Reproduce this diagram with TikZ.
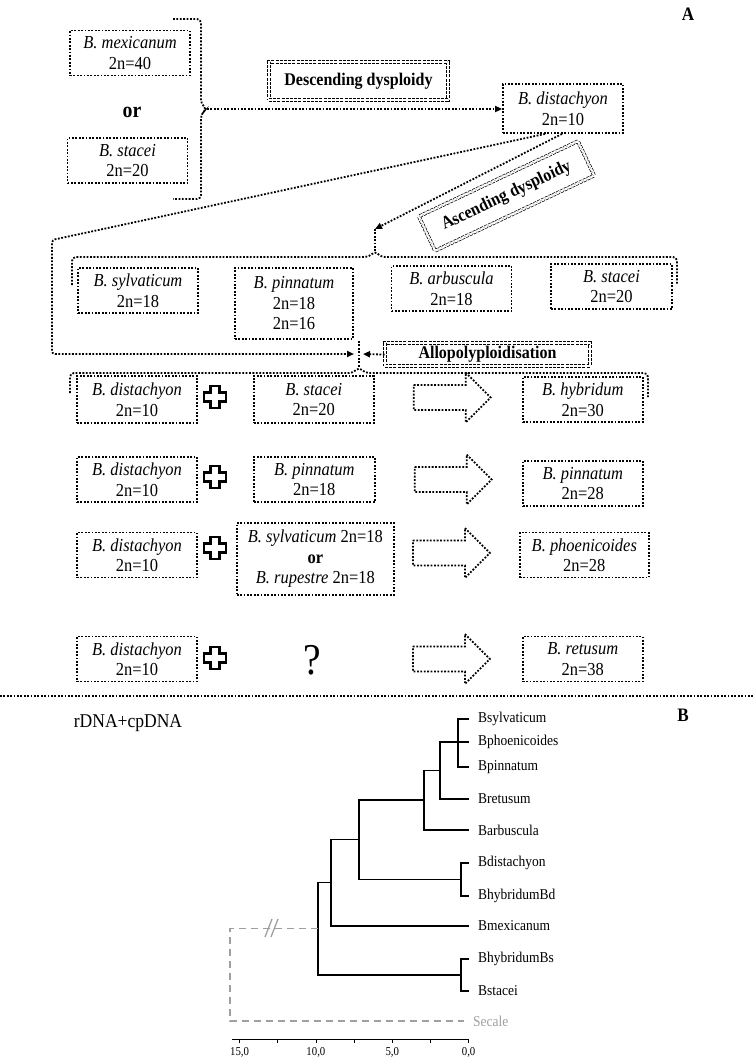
\documentclass[tikz,border=0pt]{standalone}
\usepackage{fontspec}
\setmainfont{Liberation Serif}[FakeStretch=0.9]
\usepackage{tikz}
\usetikzlibrary{positioning,shapes,arrows.meta,calc}
\newcommand{\spn}[2]{\textit{#1}\\#2}
\newcommand{\hplus}[1]{\draw[plusline,shift={#1}] (-4.5,-11) -- ++(9,0) -- ++(0,6.5) -- ++(6.5,0) -- ++(0,9) -- ++(-6.5,0) -- ++(0,6.5) -- ++(-9,0) -- ++(0,-6.5) -- ++(-6.5,0) -- ++(0,-9) -- ++(6.5,0) -- cycle;}
\newcommand{\fatarr}[1]{\draw[dotline,shift={#1}] (0,-12.5) -- (52,-12.5) -- (52,-25) -- (77,0) -- (52,25) -- (52,12.5) -- (0,12.5) -- cycle;}
\tikzset{
  dotline/.style={line width=1.8pt,dash pattern=on 1.8pt off 1.6pt},
  spnode/.style={draw,dotline,align=center,minimum width=120pt,minimum height=45pt,
    inner sep=1pt,font=\fontsize{18.3}{20.5}\selectfont},
  procnode/.style={draw,double,double distance=2.2pt,line width=0.7pt,
    dash pattern=on 3pt off 1.2pt,font=\fontsize{17.8}{19}\selectfont\bfseries,inner sep=2pt},
  brace/.style={draw,dotline,rounded corners=4pt},
  conn/.style={dotline,-{Triangle[length=7pt,width=6pt]}},
  plusline/.style={line width=2.3pt,line join=miter},
  leaf/.style={anchor=west,inner xsep=9pt,inner ysep=1pt,font=\fontsize{15}{16}\selectfont},
  tree/.style={line width=1.4pt},
  outg/.style={gray!75,line width=1.3pt,dash pattern=on 7pt off 5pt},
  tick/.style={font=\fontsize{12}{13}\selectfont}
}
\begin{document}
\begin{tikzpicture}[x=1pt,y=-1pt]
  \useasboundingbox (0,0) rectangle (754,1061);

  \node[font=\fontsize{19}{19}\selectfont\bfseries] (lblA) at (688,14) {A};
  \node[spnode] (mex0) at (130,53) {\spn{B. mexicanum}{2n=40}};
  \node[font=\fontsize{22}{22}\selectfont\bfseries] (or0) at (132,112) {or};
  \node[spnode] (stac0) at (127.5,160.5) {\spn{B. stacei}{2n=20}};
  \node[spnode,minimum height=49pt] (dist0) at (563,108.5) {\spn{B. distachyon}{2n=10}};
  \node[procnode,minimum width=179pt,minimum height=38pt] (desc) at (358.5,81) {Descending dysploidy};
  \node[procnode,minimum width=176pt,minimum height=38pt,rotate=25.3] (asc) at (506.5,196) {Ascending dysploidy};

  \node[spnode] (sylv2) at (138,290.5) {\spn{B. sylvaticum}{2n=18}};
  \node[spnode,minimum width=118pt,minimum height=71pt,anchor=north] (pinn2) at (294,267) {\textit{B. pinnatum}\\2n=18\\2n=16};
  \node[spnode] (arb2) at (451.5,288.5) {\spn{B. arbuscula}{2n=18}};
  \node[spnode,minimum width=121pt] (stac2) at (611.5,286.5) {\spn{B. stacei}{2n=20}};
  \node[procnode,minimum width=205pt,minimum height=23pt,inner sep=1pt] (allo) at (487.5,354.5) {Allopolyploidisation};

  \node[spnode,minimum height=47pt] (dist3) at (137,399.5) {\spn{B. distachyon}{2n=10}};
  \node[spnode,minimum height=47pt,right=55pt of dist3] (stac3) {\spn{B. stacei}{2n=20}};
  \coordinate[right=39pt of stac3,yshift=2pt] (arr3);
  \node[spnode,right=324pt of dist3] (hyb3) {\spn{B. hybridum}{2n=30}};

  \node[spnode] (dist4) at (137,479.5) {\spn{B. distachyon}{2n=10}};
  \node[spnode,minimum width=121pt,right=55pt of dist4] (pinn4) {\spn{B. pinnatum}{2n=18}};
  \coordinate[right=39pt of pinn4] (arr4);
  \node[spnode,right=324pt of dist4,yshift=-4pt] (pinn28) {\spn{B. pinnatum}{2n=28}};

  \node[spnode] (dist5) at (137,555) {\spn{B. distachyon}{2n=10}};
  \node[spnode,minimum width=157pt,minimum height=72pt,right=38pt of dist5,yshift=-4pt] (sylrup)
    {\textit{B. sylvaticum} 2n=18\\\textbf{or}\\\textit{B. rupestre} 2n=18};
  \coordinate[right=215pt of dist5,yshift=2pt] (arr5);
  \node[spnode,minimum width=129pt,right=321pt of dist5] (phoe5) {\spn{B. phoenicoides}{2n=28}};

  \node[spnode] (dist6) at (137,659) {\spn{B. distachyon}{2n=10}};
  \node[font=\fontsize{44}{44}\selectfont] (qm) at (312,660) {?};
  \coordinate[right=215pt of dist6] (arr6);
  \node[spnode,right=324pt of dist6] (ret6) {\spn{B. retusum}{2n=38}};

  \fatarr{(arr3)}
  \fatarr{(arr4)}
  \fatarr{(arr5)}
  \fatarr{(arr6)}
  \hplus{(215,397)}
  \hplus{(215,477)}
  \hplus{(215,548)}
  \hplus{(215,658)}

  \coordinate (tip1) at (207,109);
  \coordinate (tip2) at (375,229);
  \coordinate (hub) at (359,354);
  \draw[brace] (173,19) -- (201,19) -- (201,104) -- (tip1) -- (201,114) -- (201,199) -- (173,199);
  \draw[conn] (tip1) -- (tip1 -| dist0.west);
  \draw[conn] ([xshift=-1pt]dist0.south) -- (tip2);
  \draw[dotline] (tip2) -- (375,251);
  \draw[brace] (72,285) -- (72,257) -- (369,257) -- (375,251) -- (381,257) -- (677,257) -- (677,285);
  \draw[conn,rounded corners=3pt,shorten >=5pt] ([xshift=-18pt]dist0.south) -- (52,240) -- (52,354) -- (hub);
  \draw[conn,shorten >=4pt] (allo.west) -- (hub);
  \draw[dotline] (359,341) -- (359,367);
  \draw[brace] (70,393) -- (70,373) -- (353,373) -- (359,367) -- (365,373) -- (648,373) -- (648,397);

  \draw[dotline] (0,696) -- (754,696);

  % tree
  \node[font=\fontsize{19.5}{20}\selectfont] (dna) at (128,723) {rDNA+cpDNA};
  \node[font=\fontsize{19}{19}\selectfont\bfseries] (lblB) at (683,715) {B};
  \node[leaf] (sylv) at (469,719) {Bsylvaticum};
  \node[leaf] (phoe) at (469,742) {Bphoenicoides};
  \node[leaf] (pinn) at (469,767) {Bpinnatum};
  \node[leaf] (retu) at (469,799) {Bretusum};
  \node[leaf] (arbu) at (469,830) {Barbuscula};
  \node[leaf] (dist) at (469,863) {Bdistachyon};
  \node[leaf] (hbd) at (469,896) {BhybridumBd};
  \node[leaf] (mexi) at (469,926) {Bmexicanum};
  \node[leaf] (hbs) at (469,959) {BhybridumBs};
  \node[leaf] (stac) at (469,991) {Bstacei};
  \node[leaf,text=gray!75] (secale) at (464,1021) {Secale};
  \coordinate (n1) at (458,742);
  \coordinate (n2) at (440,770.5);
  \coordinate (n3) at (424,800);
  \coordinate (n5) at (461,879.5);
  \coordinate (n4) at (359,839.5);
  \coordinate (n6) at (331,882.5);
  \coordinate (n8) at (461,975);
  \coordinate (n7) at (318,928.5);
  \coordinate (og) at (230,928.5);
  \draw[tree] (n1) |- (sylv.west) (n1) |- (pinn.west) (n1) -- (phoe.west);
  \draw[tree] (n2) |- (n1) (n2) |- (retu.west);
  \draw[tree] (n3) |- (n2) (n3) |- (arbu.west);
  \draw[tree] (n5) |- (dist.west) (n5) |- (hbd.west);
  \draw[tree] (n4) |- (n3) (n4) |- (n5);
  \draw[tree] (n6) |- (n4) (n6) |- (mexi.west);
  \draw[tree] (n8) |- (hbs.west) (n8) |- (stac.west);
  \draw[tree] (n7) |- (n6) (n7) |- (n8);
  \draw[outg] (n7) -- (og) |- (secale.west);
  \draw[gray!75,line width=1.3pt] (265,937) -- (272,919) (271,937) -- (278,919);

  \draw[line width=0.8pt] (232,1039) -- (469,1039);
  \foreach \d in {0,2.5,...,15}
    \draw[line width=0.8pt] ({468.6-15.27*\d},1039) -- ++(0,4);
  \foreach \d in {0,5,10,15}
    \node[tick] at ({468.6-15.27*\d},1052) {\d,0};
\end{tikzpicture}
\end{document}
